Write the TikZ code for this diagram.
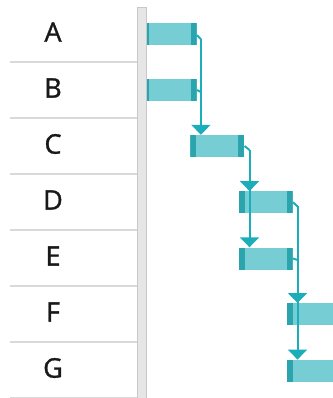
\documentclass[tikz,border=0pt]{standalone}
\usepackage{fontspec}
\setmainfont{Open Sans}[BoldFont={Open Sans},BoldFeatures={FakeBold=1.2}]
\usetikzlibrary{arrows.meta}
\definecolor{barfill}{HTML}{76CDD4}
\definecolor{barcap}{HTML}{2AA5AE}
\definecolor{conncol}{HTML}{1CADBA}
\definecolor{sepcol}{HTML}{D9D9D9}
\definecolor{gbarfill}{HTML}{E6E6E6}
\definecolor{gbardraw}{HTML}{C8C8C8}
\tikzset{
  taskbar/.style={rectangle, minimum width=54pt, minimum height=22pt, inner sep=0pt, fill=barfill,
    path picture={
      \fill[barcap] (path picture bounding box.south west) rectangle ([xshift=6pt]path picture bounding box.north west);
      \fill[barcap] (path picture bounding box.south east) rectangle ([xshift=-6pt]path picture bounding box.north east);
    }},
  rowlabel/.style={inner sep=0pt, font=\fontsize{27pt}{30pt}\selectfont\bfseries, text=black!90},
  sepline/.style={draw=sepcol, line width=1.2pt},
  conn/.style={draw=conncol, line width=2pt, -{Triangle[width=19pt,length=10pt]}},
  connplain/.style={draw=conncol, line width=2pt},
}
\begin{document}
\begin{tikzpicture}[x=1pt,y=-1pt]
\useasboundingbox (0,0) rectangle (332,398);
% row labels
\foreach \t/\yy in {A/32,B/88,C/144,D/200,E/256,F/312,G/368}{
  \node[rowlabel] (lab\t) at (53,\yy) {\t};
}
% separators
\foreach \i/\yy in {1/62,2/118,3/174,4/230,5/286,6/342,7/397.3}{
  \coordinate (sl\i) at (10,\yy);
  \coordinate (sr\i) at (137,\yy);
  \draw[sepline] (sl\i) -- (sr\i);
}
% task bars
\node[taskbar] (A) at (169.7,33.7) {};
\node[taskbar] (B) at (169.7,90) {};
\node[taskbar] (C) at (217.3,146) {};
\node[taskbar] (D) at (265.7,202.3) {};
\node[taskbar] (E) at (265.7,258.5) {};
\node[taskbar] (F) at (313.7,314.2) {};
\node[taskbar] (G) at (313.7,370.8) {};
% gray splitter
\node[draw=gbardraw, fill=gbarfill, line width=1pt, minimum width=9pt, minimum height=393pt, inner sep=0pt, anchor=north west] (split) at (137,7) {};
% connectors
\draw[connplain] ([yshift=-1.5pt]A.east) -- ++(4,4) coordinate (a1);
\draw[conn] (a1) -- (a1 |- C.north);
\draw[connplain] (B.east) -- (a1 |- 0,92);
\draw[connplain] (C.east) -- ++(5,4) coordinate (c1);
\draw[conn] (c1) -- (c1 |- D.north);
\draw[conn] (c1) -- (c1 |- E.north);
\draw[connplain] (D.east) -- ++(4.6,4) coordinate (d1);
\draw[conn] (d1) -- (d1 |- F.north);
\draw[conn] (d1) -- (d1 |- G.north);
\draw[connplain] (E.east) -- (d1 |- 0,260);
\end{tikzpicture}
\end{document}
